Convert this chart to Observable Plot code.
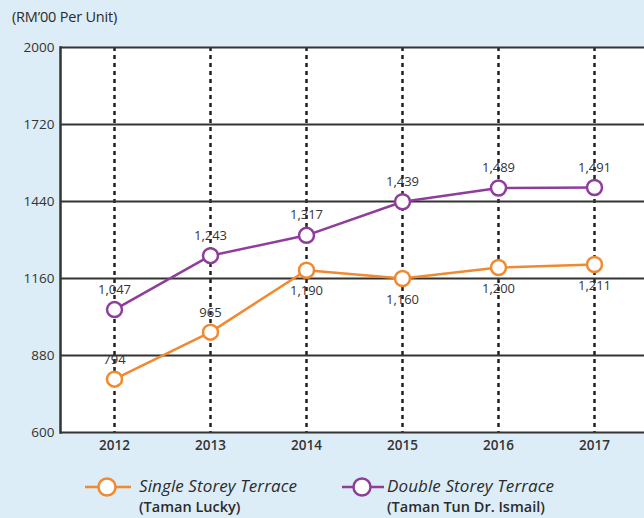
<!DOCTYPE html>
<html>
<head>
<meta charset="utf-8">
<script src="https://cdn.jsdelivr.net/npm/d3@7"></script>
<script src="https://cdn.jsdelivr.net/npm/@observablehq/plot@0.6"></script>
<style>
  html, body { margin: 0; padding: 0; }
  body { width: 644px; height: 518px; background: #dcedf7; position: relative; overflow: hidden; font-family: "Open Sans", sans-serif; }
  #title { position: absolute; left: 12px; top: 7px; font-size: 14.5px; color: #2b2b2b; letter-spacing: -0.2px; }
  #chart { position: absolute; left: 0; top: 0; }
  .leg { position: absolute; color: #2b2b2b; white-space: nowrap; }
  .leg .a { font-style: italic; font-size: 17px; line-height: 23px; letter-spacing: 0.1px; }
  .leg .b { font-weight: 600; font-size: 14.5px; line-height: 20px; }
  .icon { position: absolute; }
</style>
</head>
<body>
<div id="title">(RM’00 Per Unit)</div>
<div id="chart"></div>
<svg class="icon" style="left:84px;top:476px" width="48" height="22"><line x1="1" y1="11" x2="47" y2="11" stroke="#f0892f" stroke-width="2.5"/><circle cx="23" cy="11" r="8.5" fill="#fff" stroke="#f0892f" stroke-width="2.5"/></svg>
<div class="leg" style="left:139px;top:474px"><div class="a">Single Storey Terrace</div><div class="b">(Taman Lucky)</div></div>
<svg class="icon" style="left:341px;top:476px" width="44" height="22"><line x1="1" y1="11" x2="43" y2="11" stroke="#8e3d9b" stroke-width="2.5"/><circle cx="21" cy="11" r="8.5" fill="#fff" stroke="#8e3d9b" stroke-width="2.5"/></svg>
<div class="leg" style="left:387px;top:474px"><div class="a">Double Storey Terrace</div><div class="b">(Taman Tun Dr. Ismail)</div></div>
<script>
const years = ["2012", "2013", "2014", "2015", "2016", "2017"];
const singleStorey = [794, 965, 1190, 1160, 1200, 1211];
const doubleStorey = [1047, 1243, 1317, 1439, 1489, 1491];
const yTicks = [600, 880, 1160, 1440, 1720, 2000];

const single = years.map((y, i) => ({year: y, value: singleStorey[i], i}));
const dbl = years.map((y, i) => ({year: y, value: doubleStorey[i], i}));
const fmt = d3.format(",");
const ORANGE = "#f0892f", PURPLE = "#8e3d9b";

const chart = Plot.plot({
  width: 644,
  height: 460,
  marginLeft: 60,
  marginRight: 0,
  marginTop: 47,
  marginBottom: 28,
  style: {fontFamily: "Open Sans, sans-serif", background: "transparent", overflow: "visible"},
  x: {type: "point", domain: years, padding: 0.5, insetLeft: 3, label: null, tickSize: 0, tickPadding: 8},
  y: {domain: [600, 2000], ticks: yTicks, label: null, tickSize: 0, tickPadding: 6, tickFormat: d => String(d)},
  marks: [
    Plot.frame({fill: "white", stroke: null}),
    Plot.ruleX(years, {stroke: "#222", strokeWidth: 2.5, strokeDasharray: "4,4"}),
    Plot.ruleY(yTicks, {stroke: "#333", strokeWidth: 2}),
    Plot.frame({anchor: "left", stroke: "#333", strokeWidth: 2.5}),
    Plot.axisX({tickSize: 0, tickPadding: 8, fontSize: 13.5, fontWeight: 600, fill: "#333"}),
    Plot.axisY({ticks: yTicks, tickSize: 0, tickPadding: 6, fontSize: 13.5, fill: "#333", tickFormat: d => String(d)}),
    Plot.line(single, {x: "year", y: "value", stroke: ORANGE, strokeWidth: 2.5}),
    Plot.line(dbl, {x: "year", y: "value", stroke: PURPLE, strokeWidth: 2.5}),
    Plot.dot(single, {x: "year", y: "value", r: 7.5, fill: "white", stroke: ORANGE, strokeWidth: 2.5}),
    Plot.dot(dbl, {x: "year", y: "value", r: 7.5, fill: "white", stroke: PURPLE, strokeWidth: 2.5}),
    Plot.text(dbl, {x: "year", y: "value", text: d => fmt(d.value), dy: -20, fontSize: 13, fill: "#333"}),
    Plot.text(single, {filter: d => d.i < 2, x: "year", y: "value", text: d => fmt(d.value), dy: -19, fontSize: 13, fill: "#333"}),
    Plot.text(single, {filter: d => d.i >= 2, x: "year", y: "value", text: d => fmt(d.value), dy: 21, fontSize: 13, fill: "#333"})
  ]
});
document.getElementById("chart").appendChild(chart);
</script>
</body>
</html>
